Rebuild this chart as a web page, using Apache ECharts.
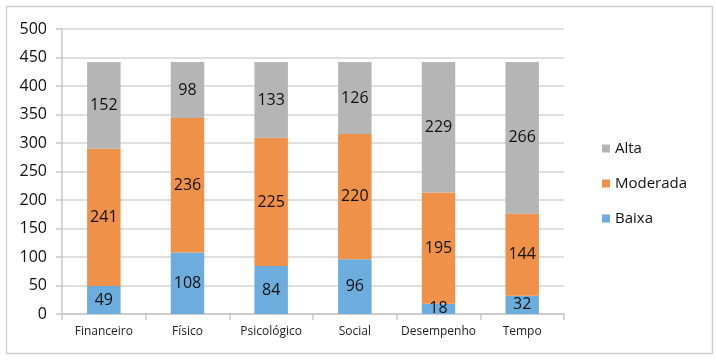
<!DOCTYPE html>
<html><head><meta charset="utf-8">
<script src="https://cdn.jsdelivr.net/npm/echarts@6/dist/echarts.min.js"></script>
<style>html,body{margin:0;padding:0;background:#fff}#c{width:717px;height:361px}</style>
</head><body><div id="c"></div>
<script>
const categories = ["Financeiro","Físico","Psicológico","Social","Desempenho","Tempo"];
const baixa = [49,108,84,96,18,32];
const moderada = [241,236,225,220,195,144];
const alta = [152,98,133,126,229,266];
const yTicks = [0,50,100,150,200,250,300,350,400,450,500];

const font = "'Open Sans', 'DejaVu Sans', sans-serif";
const chart = echarts.init(document.getElementById('c'), null, {renderer:'canvas'});
const lbl = {show:true, position:'inside', color:'#111', fontSize:16, fontFamily:font};
chart.setOption({
  animation:false,
  graphic:[{type:'rect', shape:{x:6.5,y:6.5,width:706,height:347}, style:{fill:'none', stroke:'#d0d0d0', lineWidth:1.5}}],
  grid:{left:62, right:153, top:29, bottom:47},
  legend:{
    orient:'vertical', left:597, top:136, itemGap:20, itemWidth:8, itemHeight:8,
    icon:'rect', textStyle:{fontSize:15, fontFamily:font, color:'#111'},
    data:['Alta','Moderada','Baixa']
  },
  xAxis:{type:'category', data:categories,
    axisLine:{lineStyle:{color:'#c8c8c8', width:1.5}},
    axisTick:{show:true, alignWithLabel:false, length:6, lineStyle:{color:'#c8c8c8', width:1.5}},
    axisLabel:{interval:0, fontSize:12, fontFamily:font, color:'#222', margin:12}
  },
  yAxis:{type:'value', min:yTicks[0], max:yTicks[yTicks.length-1], interval:50,
    axisLine:{show:true, lineStyle:{color:'#c8c8c8', width:1.5}},
    axisTick:{show:true, length:6, lineStyle:{color:'#c8c8c8', width:1.5}},
    splitLine:{lineStyle:{color:'#d4d4d4', width:1.5}},
    axisLabel:{fontSize:16, fontFamily:font, color:'#111', margin:15}
  },
  series:[
    {name:'Baixa', type:'bar', stack:'t', data:baixa, barWidth:'40%', itemStyle:{color:'#6cadde'}, label:lbl},
    {name:'Moderada', type:'bar', stack:'t', data:moderada, itemStyle:{color:'#f0914a'}, label:lbl},
    {name:'Alta', type:'bar', stack:'t', data:alta, itemStyle:{color:'#b5b5b5'}, label:lbl}
  ]
});
</script></body></html>
